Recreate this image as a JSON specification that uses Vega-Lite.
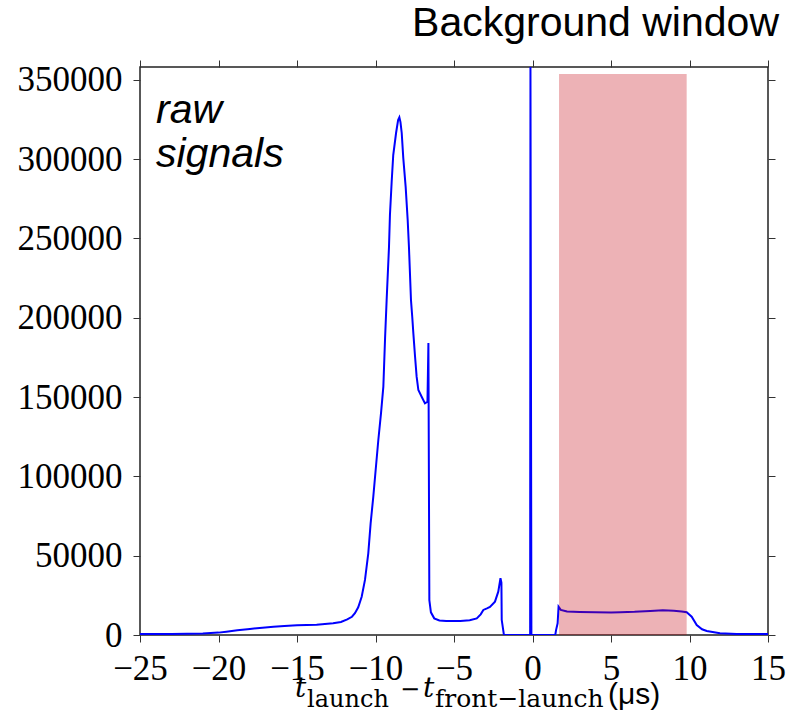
{
  "$schema": "https://vega.github.io/schema/vega-lite/v6.json",
  "width": 628,
  "height": 568,
  "autosize": {"type": "none"},
  "padding": {"left": 140, "top": 67, "right": 26, "bottom": 87},
  "background": "white",
  "title": {
    "text": "Background window",
    "orient": "top",
    "anchor": "end",
    "frame": "group",
    "font": "Liberation Sans",
    "fontSize": 41,
    "fontWeight": "normal",
    "color": "#000000",
    "baseline": "alphabetic",
    "offset": 23,
    "dx": 11,
    "dy": 40
  },
  "datasets": {
    "signal": [
      {"t": -25, "counts": 600}, {"t": -23, "counts": 700}, {"t": -21, "counts": 1000},
      {"t": -20, "counts": 1500}, {"t": -19.5, "counts": 2100}, {"t": -18.8, "counts": 3000},
      {"t": -18, "counts": 3800}, {"t": -17.2, "counts": 4600}, {"t": -16.5, "counts": 5200},
      {"t": -15.8, "counts": 5700}, {"t": -15, "counts": 6100}, {"t": -13.75, "counts": 6500},
      {"t": -12.7, "counts": 7400}, {"t": -12.2, "counts": 8200}, {"t": -11.8, "counts": 9800},
      {"t": -11.5, "counts": 11500}, {"t": -11.31, "counts": 13700}, {"t": -11.1, "counts": 17500},
      {"t": -10.88, "counts": 24100}, {"t": -10.67, "counts": 34700}, {"t": -10.46, "counts": 51500},
      {"t": -10.31, "counts": 70400}, {"t": -10.14, "counts": 87200}, {"t": -9.99, "counts": 104000},
      {"t": -9.82, "counts": 122900}, {"t": -9.65, "counts": 139700}, {"t": -9.5, "counts": 156500},
      {"t": -9.39, "counts": 187200}, {"t": -9.29, "counts": 211100}, {"t": -9.14, "counts": 244700},
      {"t": -9.08, "counts": 264700}, {"t": -8.97, "counts": 285700}, {"t": -8.87, "counts": 302500},
      {"t": -8.69, "counts": 316400}, {"t": -8.56, "counts": 324600}, {"t": -8.48, "counts": 326300},
      {"t": -8.41, "counts": 323300}, {"t": -8.33, "counts": 316400}, {"t": -8.23, "counts": 300600},
      {"t": -8.08, "counts": 282600}, {"t": -7.95, "counts": 261600}, {"t": -7.87, "counts": 244700},
      {"t": -7.74, "counts": 211100}, {"t": -7.66, "counts": 200600}, {"t": -7.59, "counts": 190300},
      {"t": -7.48, "counts": 175400}, {"t": -7.38, "counts": 162800}, {"t": -7.27, "counts": 154400},
      {"t": -7.06, "counts": 150200}, {"t": -6.85, "counts": 146000}, {"t": -6.69, "counts": 147000},
      {"t": -6.63, "counts": 184000}, {"t": -6.57, "counts": 22000}, {"t": -6.47, "counts": 14300},
      {"t": -6.26, "counts": 10500}, {"t": -5.93, "counts": 9200}, {"t": -5.5, "counts": 8800},
      {"t": -4.6, "counts": 8800}, {"t": -4.0, "counts": 9300}, {"t": -3.55, "counts": 10500},
      {"t": -3.3, "counts": 13000}, {"t": -3.13, "counts": 15800}, {"t": -2.9, "counts": 16800},
      {"t": -2.71, "counts": 17700}, {"t": -2.39, "counts": 21000}, {"t": -2.18, "counts": 27300},
      {"t": -2.04, "counts": 35800}, {"t": -1.98, "counts": 33000}, {"t": -1.96, "counts": 9500},
      {"t": -1.9, "counts": 5500}, {"t": -1.82, "counts": 0}, {"t": -0.15, "counts": 0},
      {"t": -0.13, "counts": 358000}, {"t": -0.07, "counts": 0}, {"t": 1.45, "counts": 0},
      {"t": 1.5, "counts": 3100}, {"t": 1.6, "counts": 7400}, {"t": 1.66, "counts": 17800},
      {"t": 1.8, "counts": 15800}, {"t": 2.2, "counts": 14800}, {"t": 3, "counts": 14500},
      {"t": 4, "counts": 14300}, {"t": 5, "counts": 14200}, {"t": 5.6, "counts": 14300},
      {"t": 6.5, "counts": 14600}, {"t": 7.5, "counts": 15200}, {"t": 8.3, "counts": 15600},
      {"t": 9, "counts": 15300}, {"t": 9.5, "counts": 14800}, {"t": 9.82, "counts": 14300},
      {"t": 10.14, "counts": 11500}, {"t": 10.46, "counts": 6300}, {"t": 10.8, "counts": 3600},
      {"t": 11.1, "counts": 2500}, {"t": 11.94, "counts": 1100}, {"t": 13, "counts": 700},
      {"t": 15, "counts": 600}
    ],
    "window": [{"start": 1.69, "end": 9.82, "top": 353600}],
    "note": [{"label": "raw\nsignals"}]
  },
  "layer": [
    {
      "data": {"name": "signal"},
      "mark": {"type": "line", "color": "#0000ff", "strokeWidth": 2, "clip": true},
      "encoding": {
        "x": {
          "field": "t", "type": "quantitative",
          "scale": {"domain": [-25, 15], "nice": false, "zero": false},
          "axis": {"orient": "bottom", "values": [-25, -20, -15, -10, -5, 0, 5, 10, 15], "format": "d", "labelPadding": 9, "title": null}
        },
        "y": {
          "field": "counts", "type": "quantitative",
          "scale": {"domain": [0, 358000], "nice": false, "zero": false},
          "axis": {"orient": "left", "values": [0, 50000, 100000, 150000, 200000, 250000, 300000, 350000], "format": "d", "labelPadding": 11, "title": null}
        }
      }
    },
    {
      "data": {"name": "window"},
      "mark": {"type": "rect", "color": "#c3000c", "opacity": 0.3},
      "encoding": {
        "x": {
          "field": "start", "type": "quantitative",
          "scale": {"domain": [-25, 15], "nice": false, "zero": false},
          "axis": {"orient": "top", "values": [-25, -20, -15, -10, -5, 0, 5, 10, 15], "labels": false, "title": null}
        },
        "x2": {"field": "end"},
        "y": {
          "field": "top", "type": "quantitative",
          "scale": {"domain": [0, 358000], "nice": false, "zero": false},
          "axis": {"orient": "right", "values": [0, 50000, 100000, 150000, 200000, 250000, 300000, 350000], "labels": false, "title": null}
        },
        "y2": {"datum": 0}
      }
    },
    {
      "data": {"name": "note"},
      "mark": {"type": "text", "font": "Liberation Sans", "fontStyle": "italic", "fontSize": 41, "align": "left", "baseline": "alphabetic", "lineBreak": "\n", "lineHeight": 44, "color": "#000000"},
      "encoding": {
        "x": {"datum": -23.98, "type": "quantitative", "axis": null, "scale": {"domain": [-25, 15], "nice": false, "zero": false}},
        "y": {"datum": 322700, "type": "quantitative", "axis": null, "scale": {"domain": [0, 358000], "nice": false, "zero": false}},
        "text": {"field": "label"}
      }
    },
    {
      "data": {"values": [{"s": "t"}]},
      "mark": {"type": "text", "font": "DejaVu Serif", "fontStyle": "italic", "fontSize": 28, "align": "left", "baseline": "alphabetic", "color": "#000000"},
      "encoding": {
        "x": {"datum": -15.13, "type": "quantitative", "axis": null, "scale": {"domain": [-25, 15], "nice": false, "zero": false}},
        "y": {"datum": -39100, "type": "quantitative", "axis": null, "scale": {"domain": [0, 358000], "nice": false, "zero": false}},
        "text": {"field": "s"}
      }
    },
    {
      "data": {"values": [{"s": "launch"}]},
      "mark": {"type": "text", "font": "DejaVu Serif", "fontSize": 24, "align": "left", "baseline": "alphabetic", "color": "#000000"},
      "encoding": {
        "x": {"datum": -14.36, "type": "quantitative", "axis": null, "scale": {"domain": [-25, 15], "nice": false, "zero": false}},
        "y": {"datum": -45400, "type": "quantitative", "axis": null, "scale": {"domain": [0, 358000], "nice": false, "zero": false}},
        "text": {"field": "s"}
      }
    },
    {
      "data": {"values": [{"s": "−"}]},
      "mark": {"type": "text", "font": "DejaVu Serif", "fontSize": 24, "align": "left", "baseline": "alphabetic", "color": "#000000"},
      "encoding": {
        "x": {"datum": -8.44, "type": "quantitative", "axis": null, "scale": {"domain": [-25, 15], "nice": false, "zero": false}},
        "y": {"datum": -39100, "type": "quantitative", "axis": null, "scale": {"domain": [0, 358000], "nice": false, "zero": false}},
        "text": {"field": "s"}
      }
    },
    {
      "data": {"values": [{"s": "t"}]},
      "mark": {"type": "text", "font": "DejaVu Serif", "fontStyle": "italic", "fontSize": 28, "align": "left", "baseline": "alphabetic", "color": "#000000"},
      "encoding": {
        "x": {"datum": -6.97, "type": "quantitative", "axis": null, "scale": {"domain": [-25, 15], "nice": false, "zero": false}},
        "y": {"datum": -39100, "type": "quantitative", "axis": null, "scale": {"domain": [0, 358000], "nice": false, "zero": false}},
        "text": {"field": "s"}
      }
    },
    {
      "data": {"values": [{"s": "front−launch"}]},
      "mark": {"type": "text", "font": "DejaVu Serif", "fontSize": 25, "align": "left", "baseline": "alphabetic", "color": "#000000"},
      "encoding": {
        "x": {"datum": -6.21, "type": "quantitative", "axis": null, "scale": {"domain": [-25, 15], "nice": false, "zero": false}},
        "y": {"datum": -45400, "type": "quantitative", "axis": null, "scale": {"domain": [0, 358000], "nice": false, "zero": false}},
        "text": {"field": "s"}
      }
    },
    {
      "data": {"values": [{"s": "(μs)"}]},
      "mark": {"type": "text", "font": "Liberation Sans", "fontSize": 30, "align": "left", "baseline": "alphabetic", "color": "#000000"},
      "encoding": {
        "x": {"datum": 4.81, "type": "quantitative", "axis": null, "scale": {"domain": [-25, 15], "nice": false, "zero": false}},
        "y": {"datum": -43500, "type": "quantitative", "axis": null, "scale": {"domain": [0, 358000], "nice": false, "zero": false}},
        "text": {"field": "s"}
      }
    }
  ],
  "resolve": {"axis": {"x": "independent", "y": "independent"}},
  "config": {
    "view": {"stroke": "#222222", "strokeWidth": 1.5},
    "axis": {
      "grid": false,
      "domain": false,
      "ticks": true,
      "tickColor": "#333333",
      "tickSize": 7,
      "tickWidth": 1,
      "labelFont": "Liberation Serif",
      "labelFontSize": 35,
      "labelColor": "#000000",
      "labelFlush": false,
      "labelOverlap": false,
      "labelBound": false
    }
  }
}
